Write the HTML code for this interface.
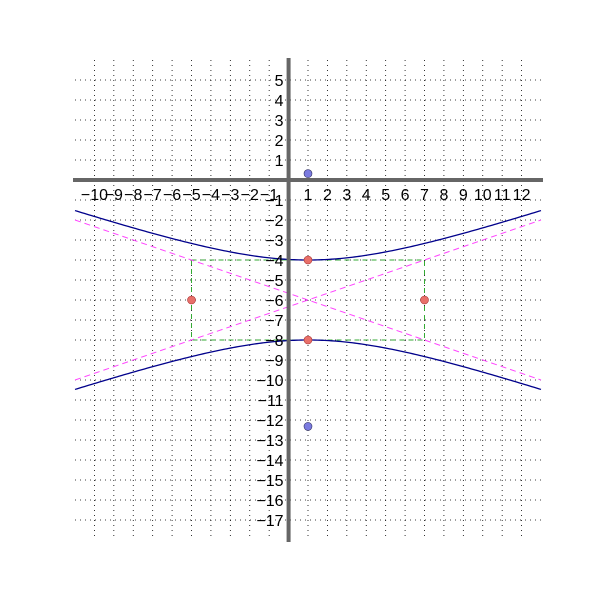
<!DOCTYPE html>
<html><head><meta charset="utf-8"><style>
html,body{margin:0;padding:0;background:#fff;}
svg{display:block;font-family:"Liberation Sans",sans-serif;}
</style></head><body>
<svg id="chart" width="600" height="600"></svg>
<script>
const xTicks=[-10,-9,-8,-7,-6,-5,-4,-3,-2,-1,1,2,3,4,5,6,7,8,9,10,11,12];
const yTicks=[-17,-16,-15,-14,-13,-12,-11,-10,-9,-8,-7,-6,-5,-4,-3,-2,-1,1,2,3,4,5];
const center=[1,-6];
const semiA=[2];
const semiB=[6];
const vertexX=[1,1];
const vertexY=[-4,-8];
const coVertexX=[-5,7];
const coVertexY=[-6,-6];
const fociX=[1,1];
const fociY=[0.32,-12.32];
const xDomain=[-11,13], yDomain=[-18,6];
const X0=75,X1=541,Y0=60,Y1=540;
const sx=v=>X0+(v-xDomain[0])/(xDomain[1]-xDomain[0])*(X1-X0);
const sy=v=>Y1-(v-yDomain[0])/(yDomain[1]-yDomain[0])*(Y1-Y0);
const svg=document.getElementById('chart');
const NS='http://www.w3.org/2000/svg';
function mk(t,a){const e=document.createElementNS(NS,t);for(const k in a)e.setAttribute(k,a[k]);svg.appendChild(e);return e;}
// grid
for(let v=xDomain[0]+1;v<xDomain[1];v++){const e=mk('line',{x1:sx(v),x2:sx(v),y1:Y0,y2:Y1,stroke:'#000','stroke-width':0.8,'stroke-dasharray':'1,4'});

}
for(let v=yDomain[0]+1;v<yDomain[1];v++){const e=mk('line',{x1:X0,x2:X1,y1:sy(v),y2:sy(v),stroke:'#000','stroke-width':0.8,'stroke-dasharray':'1,4'});

}
const cx=center[0],cy=center[1],a=semiA[0],b=semiB[0];
// rectangle
const r=mk('rect',{x:sx(cx-b),y:sy(cy+a),width:sx(cx+b)-sx(cx-b),height:sy(cy-a)-sy(cy+a),fill:'none',stroke:'#3a3','stroke-width':1,'stroke-dasharray':'5,4'});


// asymptotes
[1,-1].forEach(s=>{const e=mk('line',{x1:sx(xDomain[0]),y1:sy(cy+s*a/b*(xDomain[0]-cx)),x2:sx(xDomain[1]),y2:sy(cy+s*a/b*(xDomain[1]-cx)),stroke:'#f4f','stroke-width':1,'stroke-dasharray':'6,4'});

});
// hyperbola branches
[1,-1].forEach(s=>{let d='';for(let i=0;i<=200;i++){const x=xDomain[0]+i*(xDomain[1]-xDomain[0])/200;const y=cy+s*a*Math.sqrt(1+((x-cx)/b)**2);d+=(i?'L':'M')+sx(x).toFixed(2)+','+sy(y).toFixed(2);}
const e=mk('path',{d:d,fill:'none',stroke:'#00008b','stroke-width':1.3});

});
// axes spines
const ax=mk('line',{x1:73,x2:543,y1:sy(0),y2:sy(0),stroke:'#666','stroke-width':4});


const ay=mk('line',{x1:sx(0),x2:sx(0),y1:58,y2:542,stroke:'#666','stroke-width':4});


// tick labels
xTicks.forEach(v=>{const t=mk('text',{x:sx(v),y:sy(0)+20,'text-anchor':'middle','font-size':16,fill:'#000'});t.textContent=(v<0?'\u2212':'')+Math.abs(v);

});
yTicks.forEach(v=>{const t=mk('text',{x:sx(0)-5,y:sy(v)+6,'text-anchor':'end','font-size':16,fill:'#000'});t.textContent=(v<0?'\u2212':'')+Math.abs(v);

});
// points
for(let i=0;i<vertexX.length;i++){const c=mk('circle',{cx:sx(vertexX[i]),cy:sy(vertexY[i]),r:4,fill:'#e8706a',stroke:'#a33','stroke-width':0.6});

}
for(let i=0;i<coVertexX.length;i++){const c=mk('circle',{cx:sx(coVertexX[i]),cy:sy(coVertexY[i]),r:4,fill:'#e8706a',stroke:'#a33','stroke-width':0.6});

}
for(let i=0;i<fociX.length;i++){const c=mk('circle',{cx:sx(fociX[i]),cy:sy(fociY[i]),r:4,fill:'#7b7be0',stroke:'#336','stroke-width':0.6});

}
</script>
</body></html>
